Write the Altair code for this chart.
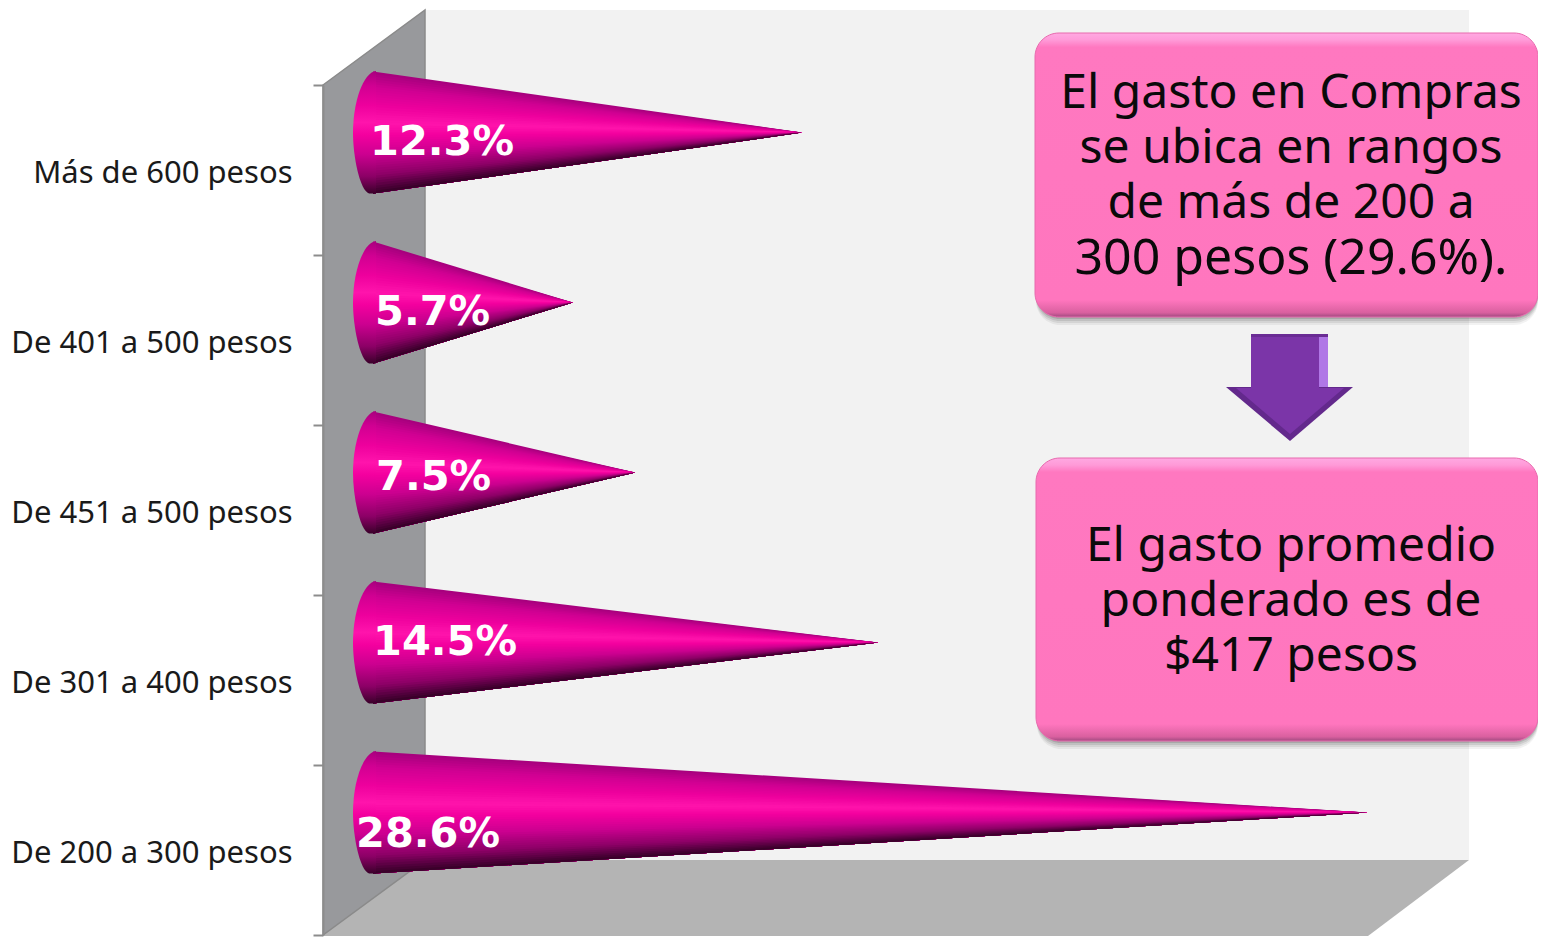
import altair as alt
import pandas as pd

# ---- data
categories = ["Más de 600 pesos", "De 401 a 500 pesos", "De 451 a 500 pesos", "De 301 a 400 pesos", "De 200 a 300 pesos"]
values = [12.3, 5.7, 7.5, 14.5, 28.6]
value_labels = ["12.3%", "5.7%", "7.5%", "14.5%", "28.6%"]
box_one_lines = ["El gasto en Compras", "se ubica en rangos", "de más de 200 a", "300 pesos (29.6%)."]
box_two_lines = ["El gasto promedio", "ponderado es de", "$417 pesos"]

# ---- layout, in reference-picture pixels
X0, PX_PER_PCT = 375.0, 34.7
RIGHT = 1538
def px(x):
    return (x - X0) / PX_PER_PCT

label_left = [370, 375, 376, 373, 356]
label_mid = [143, 313, 478, 643, 835]
band_tops = [85 + 170 * i for i in range(5)]
centers = [t + 47.5 for t in band_tops]
BASE_R = 61
N_BANDS = 48

stop_f = [0, 0.12, 0.28, 0.42, 0.52, 0.68, 0.86, 1]
stop_c = ["#a8007e", "#d00092", "#ee009d", "#ff14ac", "#f4009f", "#cc0090", "#8c0066", "#3a002a"]

xs = alt.Scale(domain=[px(323), px(RIGHT)], range=[0, RIGHT - 323])
ys = alt.Scale(domain=[937, 8])

def X(f="x"):
    return alt.X(f"{f}:Q", scale=xs, axis=None, title=None)
def Y(f="y"):
    return alt.Y(f"{f}:Q", scale=ys, axis=None, title=None)

# category axis
axis_layer = alt.Chart(pd.DataFrame({"c": categories})).mark_point(opacity=0).encode(
    y=alt.Y("c:N", sort=categories, title=None,
            scale=alt.Scale(domain=categories, range=[77, 927], paddingInner=0, paddingOuter=0),
            axis=alt.Axis(tickBand="extent", tickSize=10, tickColor="#8c8c8c", tickWidth=2,
                          domainColor="#8c8c8c", domainWidth=2, labelFont="Noto Sans",
                          labelFontSize=31, labelColor="#1a1a1a", labelPadding=21, labelOffset=3,
                          labelLimit=400, grid=False, zindex=1))
)

# walls
def area(rows, **mark):
    d = pd.DataFrame(rows, columns=["x", "y", "y2"])
    d["x"] = d["x"].map(px)
    return alt.Chart(d).mark_area(orient="vertical", **mark).encode(x=X(), y=Y(), y2="y2:Q")

def rect(x, x2, y, y2, **mark):
    d = pd.DataFrame({"x": [px(x)], "x2": [px(x2)], "y": [y], "y2": [y2]})
    return alt.Chart(d).mark_rect(**mark).encode(x=X(), x2="x2:Q", y=Y(), y2="y2:Q")

back_wall = rect(425, 1469, 10, 860, color="#f2f2f2")
floor = area([(323, 935, 936), (425, 860, 936), (1368, 860, 936), (1469, 860, 860)], color="#b4b4b4")
left_wall = area([(323, 85, 935), (425, 10, 860)], color="#98999c", stroke="#8a8a8a", strokeWidth=1.5)

# cones: overlapping bands converging at the tip
rows = []
for i, (cat, v, cy) in enumerate(zip(categories, values, centers)):
    for k in range(N_BANDS):
        f = k / (N_BANDS - 1)
        key = f"{i}-{k:02d}"
        top = cy - BASE_R + f * 2 * BASE_R * (N_BANDS - 1) / N_BANDS
        rows.append({"key": key, "f": f, "x": px(373), "y": top, "y2": cy + BASE_R})
        rows.append({"key": key, "f": f, "x": v, "y": cy, "y2": cy})
cones = alt.Chart(pd.DataFrame(rows)).mark_area(orient="vertical").encode(
    x=X(), y=Y(), y2="y2:Q", detail="key:N",
    color=alt.Color("f:Q", scale=alt.Scale(domain=stop_f, range=stop_c), legend=None),
)

cap_gradient = alt.Gradient(gradient="linear", x1=0, y1=0, x2=0, y2=1,
                            stops=[alt.GradientStop(offset=o, color=c) for o, c in zip(stop_f, stop_c)])
CAP = "M0.03 -0.615 C-0.10 -0.60 -0.20 -0.30 -0.20 0 C-0.20 0.25 -0.13 0.58 -0.04 0.61 L0.03 0.61 Z"
caps = alt.Chart(pd.DataFrame({"x": [px(373)] * 5, "y": centers})).mark_point(
    shape=CAP, size=40000, filled=True, fill=cap_gradient, opacity=1, strokeWidth=0
).encode(x=X(), y=Y())

value_text = alt.Chart(pd.DataFrame({"x": [px(v) for v in label_left], "y": label_mid, "t": value_labels})).mark_text(
    font="DejaVu Sans", fontWeight="bold", fontSize=41.5, color="white", align="left", baseline="middle"
).encode(x=X(), y=Y(), text="t:N")

# callout boxes
def stops(*pairs):
    return [alt.GradientStop(offset=o, color=c) for o, c in pairs]

box_fill = alt.Gradient(gradient="linear", x1=0, y1=0, x2=0, y2=1,
                        stops=stops((0, "#ffa9e2"), (0.025, "#ff9ad8"), (0.05, "#ff78c0"),
                                    (0.94, "#ff76be"), (0.985, "#d9609f"), (1, "#a04a80")))
boxes = [(1035, RIGHT, 33, 317), (1036, RIGHT, 458, 741)]
shadows = []
for b in boxes:
    for grow, op in [(8, 0.05), (6, 0.07), (4, 0.09), (2, 0.12)]:
        shadows.append(rect(b[0] + 1, b[1], b[2] + 4, b[3] + grow, color="#000000", opacity=op, cornerRadius=24))
box_marks = [rect(*b, fill=box_fill, stroke="#e86aae", strokeWidth=1, cornerRadius=24) for b in boxes]

line_rows = [{"x": px(1291), "y": 94 + 55 * i, "t": t, "s": 48} for i, t in enumerate(box_one_lines[:3])] + \
            [{"x": px(1291), "y": 259, "t": box_one_lines[3], "s": 50}] + \
            [{"x": px(1291), "y": 547 + 55 * i, "t": t, "s": 48} for i, t in enumerate(box_two_lines)]
box_text = alt.Chart(pd.DataFrame(line_rows)).mark_text(
    font="Noto Sans", color="#0a0a0a", align="center", baseline="middle"
).encode(x=X(), y=Y(), text="t:N", size=alt.Size("s:Q", scale=None, legend=None))

# arrow
arrow = [
    rect(1251, 1328, 334, 388, color="#7b35a8"),
    rect(1251, 1328, 334, 337, color="#6a2c94"),
    rect(1319, 1328, 337, 388, color="#b077e6"),
    area([(1226, 387, 387), (1290, 387, 441), (1353, 387, 387)], color="#63298c"),
    area([(1236, 388, 388), (1290, 388, 434), (1344, 388, 388)], color="#7b35a8"),
    rect(1251, 1319, 337, 392, color="#7b35a8"),
]

chart = alt.layer(
    axis_layer, back_wall, floor, left_wall, cones, caps, value_text,
    *shadows, *box_marks, *arrow, box_text
).resolve_scale(y="independent").properties(
    width=RIGHT - 323, height=929,
    padding={"left": 315, "top": 0, "right": 0, "bottom": 0},
    autosize=alt.AutoSizeParams(type="none"),
    background="white",
).configure_view(stroke=None)

chart.save("out.html", embed_options={"renderer": "svg", "actions": False})
